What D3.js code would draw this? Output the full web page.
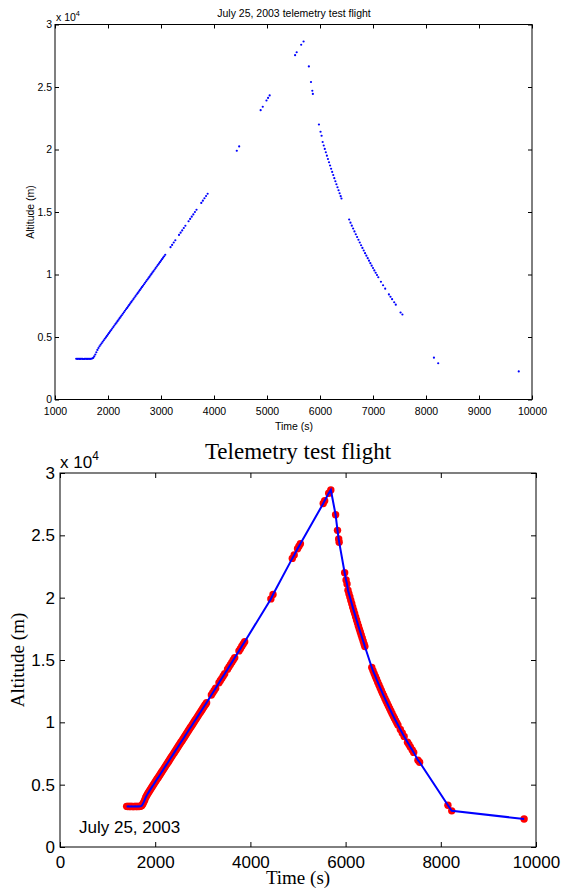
<!DOCTYPE html>
<html>
<head>
<meta charset="utf-8">
<script src="https://cdn.jsdelivr.net/npm/d3@7"></script>
<style>
  body { margin: 0; background: #fff; }
  svg { display: block; }
</style>
</head>
<body>
<svg width="563" height="890"></svg>
<script>
// Tempo (s) e altitude (m)
var time = [
  1400,1420,1440,1460,1480,1500,1520,1540,1560,1580,1600,1620,1640,1660,1680,1700,
  1720,1740,1760,1780,1800,1820,1840,1860,1880,
  1900,1920,1940,1960,1980,2000,2020,2040,2060,2080,2100,2120,2140,2160,2180,
  2200,2220,2240,2260,2280,2300,2320,2340,2360,2380,2400,2420,2440,2460,2480,
  2500,2520,2540,2560,2580,2600,2620,2640,2660,2680,2700,2720,2740,2760,2780,
  2800,2820,2840,2860,2880,2900,2920,2940,2960,2980,3000,3020,3040,3060,3080,
  3180,3210,3240,3270,3340,3370,3400,3430,3460,3520,3550,3580,3610,3640,3670,
  3760,3790,3820,3850,3880,
  4430,4475,
  4880,4920,4990,5020,5050,
  5530,5560,5645,5690,
  5790,5830,5855,5865,5980,6010,6030,
  6050,6070,6090,6110,6130,6150,6170,6190,6210,6230,6250,6270,6290,6310,6330,6350,6370,6390,6405,
  6550,6575,6600,6625,6650,6675,6700,6725,6750,6775,6800,6825,6850,6875,6900,6925,6950,6975,
  7000,7025,7050,7075,7100,
  7150,7190,7230,7300,7330,7360,7400,7430,
  7520,7555,
  8150,8230,
  9750
];
var altitude = [
  3260,3250,3260,3250,3250,3260,3250,3240,3250,3260,3250,3250,3260,3250,3260,3280,
  3330,3450,3600,3780,3970,4120,4260,4380,4500,
  4620,4740,4860,4970,5090,5210,5330,5450,5560,5680,5800,5920,6040,6150,6270,
  6390,6510,6630,6740,6860,6980,7100,7220,7330,7450,7570,7690,7810,7920,8040,
  8160,8280,8400,8510,8630,8750,8870,8990,9100,9220,9340,9460,9580,9690,9810,
  9930,10050,10170,10280,10400,10520,10640,10760,10870,10990,11110,11230,11350,11460,11580,
  12190,12370,12560,12740,13170,13350,13530,13720,13900,14260,14450,14630,14810,15000,15180,
  15730,15910,16100,16280,16460,
  19900,20250,
  23150,23420,23920,24130,24330,
  27550,27780,28380,28640,
  26650,25400,24700,24450,22000,21420,21100,
  20600,20320,20050,19780,19510,19240,18980,18720,18460,18210,17960,17710,17460,17220,16980,16740,16500,16270,16080,
  14400,14150,13910,13680,13450,13220,13000,12780,12560,12340,12130,11920,11710,11510,11310,11110,10910,10710,
  10520,10330,10140,9960,9780,
  9420,9140,8870,8410,8220,8030,7780,7590,
  6960,6800,
  3350,2900,
  2250
];

var topXTicks = [1000,2000,3000,4000,5000,6000,7000,8000,9000,10000];
var bottomXTicks = [0,2000,4000,6000,8000,10000];
var yTicks = [0,5000,10000,15000,20000,25000,30000];
var yTickLabels = ["0","0.5","1","1.5","2","2.5","3"];

var data = time.map(function(t, i) { return {t: t, a: altitude[i]}; });

var svg = d3.select("svg");
var sans = "'Liberation Sans', Arial, Helvetica, sans-serif";
var serif = "'Liberation Serif', 'Times New Roman', Times, serif";

/*
 Desenhar um painel (caixa, ticks nos 4 lados, etiquetas)
*/
function panel(x, y, xTicks, opt) {
    var g = svg.append("g");
    var x0 = x.range()[0], x1 = x.range()[1];
    var y0 = y.range()[0], y1 = y.range()[1];

    // eixo de baixo com etiquetas
    g.append("g")
        .attr("transform", "translate(0," + y0 + ")")
        .call(d3.axisBottom(x).tickValues(xTicks).tickSize(-opt.tick).tickSizeOuter(0)
            .tickPadding(opt.xPad).tickFormat(d3.format("d")));
    // eixo de cima, só ticks
    g.append("g")
        .attr("transform", "translate(0," + y1 + ")")
        .call(d3.axisTop(x).tickValues(xTicks).tickSize(-opt.tick).tickSizeOuter(0).tickFormat(""));
    // eixo esquerdo com etiquetas
    g.append("g")
        .attr("transform", "translate(" + x0 + ",0)")
        .call(d3.axisLeft(y).tickValues(yTicks).tickSize(-opt.tick).tickSizeOuter(0)
            .tickPadding(opt.yPad).tickFormat(function(d, i) { return yTickLabels[i]; }));
    // eixo direito, só ticks
    g.append("g")
        .attr("transform", "translate(" + x1 + ",0)")
        .call(d3.axisRight(y).tickValues(yTicks).tickSize(-opt.tick).tickSizeOuter(0).tickFormat(""));

    g.selectAll(".domain").remove();
    g.selectAll(".tick line").attr("stroke", "#000").attr("stroke-width", 1);
    g.selectAll(".tick text")
        .attr("fill", "#000")
        .style("font-family", sans)
        .style("font-size", opt.fs + "px");

    // caixa
    g.append("rect")
        .attr("x", x0).attr("y", y1)
        .attr("width", x1 - x0).attr("height", y0 - y1)
        .attr("fill", "none").attr("stroke", "#000").attr("stroke-width", 1);

    // x 10^4
    var ex = g.append("text")
        .attr("x", x0 + opt.expDx).attr("y", y1 - opt.expDy)
        .style("font-family", sans).style("font-size", opt.fs + "px");
    ex.append("tspan").text("x 10");
    ex.append("tspan").attr("dy", -opt.fs * 0.45).style("font-size", (opt.fs * 0.7) + "px").text("4");

    return g;
}

/*
 Gráfico de cima
*/
var xa = d3.scaleLinear().domain([1000, 10000]).range([55, 532]);
var ya = d3.scaleLinear().domain([0, 30000]).range([399.5, 24.5]);

panel(xa, ya, topXTicks, {tick: 4, xPad: 8, yPad: 3, fs: 10.5, expDx: 1, expDy: 4});

svg.append("g").selectAll("circle")
    .data(data)
    .enter().append("circle")
    .attr("cx", function(d) { return xa(d.t); })
    .attr("cy", function(d) { return ya(d.a); })
    .attr("r", 1.1)
    .attr("fill", "#0000ff");

svg.append("text")
    .attr("x", 294).attr("y", 17)
    .attr("text-anchor", "middle")
    .style("font-family", sans).style("font-size", "10.5px")
    .text("July 25, 2003 telemetry test flight");

svg.append("text")
    .attr("x", 294).attr("y", 430)
    .attr("text-anchor", "middle")
    .style("font-family", sans).style("font-size", "10.5px")
    .text("Time (s)");

svg.append("text")
    .attr("transform", "translate(34,212) rotate(-90)")
    .attr("text-anchor", "middle")
    .style("font-family", sans).style("font-size", "10.5px")
    .text("Altitude (m)");

/*
 Gráfico de baixo
*/
var xb = d3.scaleLinear().domain([0, 10000]).range([60, 536]);
var yb = d3.scaleLinear().domain([0, 30000]).range([847, 473]);

panel(xb, yb, bottomXTicks, {tick: 5, xPad: 9, yPad: 5, fs: 17, expDx: 0, expDy: 5});

svg.append("g").selectAll("circle")
    .data(data)
    .enter().append("circle")
    .attr("cx", function(d) { return xb(d.t); })
    .attr("cy", function(d) { return yb(d.a); })
    .attr("r", 3.7)
    .attr("fill", "#ff0000");

var line = d3.line()
    .x(function(d) { return xb(d.t); })
    .y(function(d) { return yb(d.a); });

svg.append("path")
    .datum(data)
    .attr("d", line)
    .attr("fill", "none")
    .attr("stroke", "#0000ff")
    .attr("stroke-width", 2);

svg.append("text")
    .attr("x", 79).attr("y", 833)
    .style("font-family", sans).style("font-size", "17px")
    .text("July 25, 2003");

svg.append("text")
    .attr("x", 298).attr("y", 459)
    .attr("text-anchor", "middle")
    .style("font-family", serif).style("font-size", "23px")
    .text("Telemetry test flight");

svg.append("text")
    .attr("x", 298).attr("y", 884)
    .attr("text-anchor", "middle")
    .style("font-family", serif).style("font-size", "19px")
    .text("Time (s)");

svg.append("text")
    .attr("transform", "translate(24,660) rotate(-90)")
    .attr("text-anchor", "middle")
    .style("font-family", serif).style("font-size", "19px")
    .text("Altitude (m)");
</script>
</body>
</html>
